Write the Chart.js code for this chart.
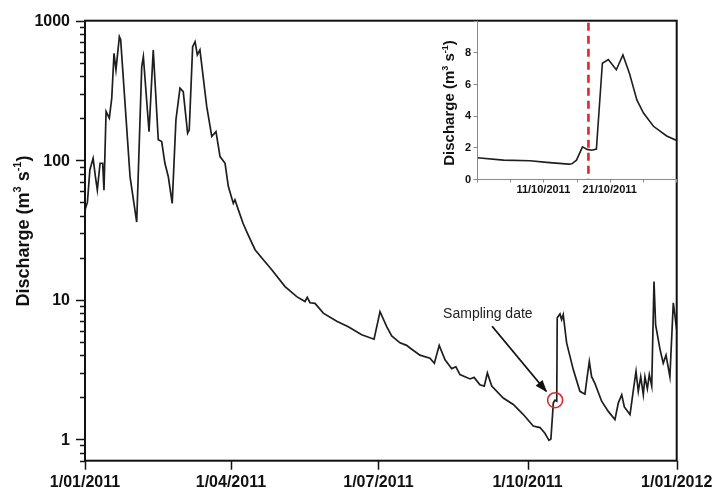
<!DOCTYPE html>
<html>
<head>
<meta charset="utf-8">
<script src="https://cdn.jsdelivr.net/npm/chart.js@4.4.1/dist/chart.umd.min.js"></script>
<style>
  html, body { margin: 0; padding: 0; background: #ffffff; }
  #wrap { position: relative; width: 712px; height: 489px; }
  #main { position: absolute; left: 0; top: 0; }
  #inset { position: absolute; left: 400px; top: 0; }
</style>
</head>
<body>
<div id="wrap">
  <canvas id="main" width="712" height="489"></canvas>
  <canvas id="inset" width="290" height="200"></canvas>
</div>
<script>
// ---------------- DATA ----------------
// Main series: day of year 2011 (0 = 1 Jan 2011) and daily discharge (m3/s)
const days = [0, 1.5, 3, 5, 6.5, 7.6, 9.3, 10.9, 11.7, 13, 15, 16.5, 17.9, 19.1, 21.2, 22, 27.8, 31.9, 35, 36,
  39.5, 42.1, 45.2, 47.3, 49.3, 51.4, 53.8, 56.1, 58.6, 60.6, 63.3, 64.3, 66.4, 67.9, 69.3, 70.9, 75.1, 78.2,
  80.8, 83.3, 86.4, 88.4, 90, 91.5, 92.5, 94.6, 97.6, 100.7, 104.9, 110, 115.2, 123.4, 130.6, 135.7, 137.1,
  138.8, 141.9, 147, 155.3, 162.4, 170.7, 178.3, 182, 186.1, 189.2, 194.3, 198.4, 200.5, 206.6, 212.8, 215.5,
  218.5, 222.1, 226.2, 228.8, 231.3, 237.5, 240, 243.6, 246.3, 248.2, 250.9, 258, 264.2, 270.4, 276.5, 280.7,
  283.7, 286.2, 287.4, 288.9, 289.9, 291, 291.3, 293, 294, 295, 297.1, 301.2, 305.3, 308.4, 309.8, 311.1,
  312.5, 314.6, 318.7, 322.8, 326.9, 329, 331.1, 332.7, 336.2, 338.6, 339.9, 341.3, 342.8, 344.4, 345.4,
  346.9, 348.1, 349.6, 351, 352, 354.7, 356.7, 358.4, 360.8, 362.9, 365];
const discharge = [44, 50, 85, 103, 75, 61, 95, 95, 61, 223, 200, 278, 583, 444, 768, 730, 76, 36, 468, 552,
  160, 617, 140, 136, 95, 76, 49, 195, 328, 310, 156, 165, 652, 707, 568, 617, 242, 148,
  160, 106, 95, 65, 56, 49, 52, 44, 35, 29, 22.8, 19.3, 16.4, 12.4, 10.5, 9.7, 10.4,
  9.5, 9.4, 8.0, 7.0, 6.4, 5.6, 5.2, 8.2, 6.4, 5.5, 4.9, 4.7, 4.5, 4.0, 3.8, 3.5,
  4.7, 3.7, 3.2, 3.3, 2.9, 2.7, 2.77, 2.45, 2.4, 2.98, 2.4, 1.97, 1.77, 1.5, 1.24, 1.21,
  1.1, 0.98, 1.0, 1.82, 1.9, 1.87, 7.4, 7.9, 7.2, 7.8, 4.9, 3.15, 2.2, 2.1, 2.8, 3.6,
  2.8, 2.5, 1.87, 1.58, 1.38, 1.82, 2.08, 1.7, 1.5, 2.4, 3.06, 2.2, 2.8, 2.08, 2.8,
  2.3, 2.9, 2.4, 13.5, 6.6, 4.4, 3.5, 4.0, 2.8, 9.5, 6.1];

// Main x tick positions (day of year) and labels
const xTickDays = [0, 90, 181, 273, 365];
const xTickLabels = ['1/01/2011', '1/04/2011', '1/07/2011', '1/10/2011', '1/01/2012'];
const yTickValues = [1, 10, 100, 1000];
const yTickLabels = ['1', '10', '100', '1000'];

// Sampling point
const samplingDay = 290;
const samplingValue = 1.9;
const samplingText = 'Sampling date';

// Inset series: day of October 2011 and discharge
const octDays = [1, 5, 9, 11.5, 14.8, 15.3, 16, 16.9, 17.6, 18.3, 19, 19.9, 20.8, 22, 23, 24, 25.1, 26.1, 27.6, 29.6, 31];
const octDischarge = [1.34, 1.19, 1.15, 1.05, 0.94, 0.96, 1.19, 2.03, 1.87, 1.82, 1.89, 7.31, 7.55, 6.9, 7.84, 6.65, 5.0, 4.17, 3.33, 2.72, 2.45];
const insetXTicks = [1, 6, 11, 16, 21, 26, 31];
const insetXLabels = { 11: '11/10/2011', 21: '21/10/2011' };
const insetYTicks = [0, 2, 4, 6, 8, 10];
const insetYLabels = { 0: '0', 2: '2', 4: '4', 6: '6', 8: '8' };
const samplingOctDay = 17.8;

// ---------------- HELPERS ----------------
const FONT = "'Liberation Sans', Arial, sans-serif";

function drawRotatedTitle(ctx, baseX, centerY, size, color) {
  const parts = [
    { t: 'Discharge (m', sup: false },
    { t: '3', sup: true },
    { t: ' s', sup: false },
    { t: '-1', sup: true },
    { t: ')', sup: false }
  ];
  const supSize = Math.round(size * 0.6);
  let total = 0;
  const widths = parts.map(p => {
    ctx.font = 'bold ' + (p.sup ? supSize : size) + 'px ' + FONT;
    const w = ctx.measureText(p.t).width;
    total += w;
    return w;
  });
  ctx.save();
  ctx.translate(baseX, centerY);
  ctx.rotate(-Math.PI / 2);
  ctx.fillStyle = color;
  ctx.textBaseline = 'alphabetic';
  ctx.textAlign = 'left';
  let x = -total / 2;
  parts.forEach((p, i) => {
    ctx.font = 'bold ' + (p.sup ? supSize : size) + 'px ' + FONT;
    ctx.fillText(p.t, x, p.sup ? -size * 0.42 : 0);
    x += widths[i];
  });
  ctx.restore();
}

// ---------------- MAIN CHART ----------------
const mainDecor = {
  id: 'mainDecor',
  afterDraw(chart) {
    const ctx = chart.ctx;
    const a = chart.chartArea;
    const xs = chart.scales.x, ys = chart.scales.y;
    ctx.save();
    ctx.strokeStyle = '#111';
    // y ticks (major + minor)
    ctx.lineWidth = 1.5;
    for (let e = -1; e <= 3; e++) {
      for (let m = 1; m <= 9; m++) {
        const v = m * Math.pow(10, e);
        if (v < ys.min - 1e-9 || v > ys.max + 1e-9) continue;
        const py = Math.round(ys.getPixelForValue(v)) + 0.5;
        const len = (m === 1) ? 9 : 5;
        ctx.beginPath();
        ctx.moveTo(a.left - len, py);
        ctx.lineTo(a.left, py);
        ctx.stroke();
      }
    }
    // x ticks
    xTickDays.forEach(d => {
      const px = Math.round(xs.getPixelForValue(d)) + 0.5;
      ctx.beginPath();
      ctx.moveTo(px, a.bottom);
      ctx.lineTo(px, a.bottom + 9);
      ctx.stroke();
    });
    // tick labels
    ctx.fillStyle = '#111';
    ctx.font = 'bold 16px ' + FONT;
    ctx.textAlign = 'center';
    ctx.textBaseline = 'alphabetic';
    xTickDays.forEach((d, i) => {
      ctx.fillText(xTickLabels[i], xs.getPixelForValue(d), a.bottom + 26);
    });
    ctx.textAlign = 'right';
    ctx.textBaseline = 'middle';
    yTickValues.forEach((v, i) => {
      ctx.fillText(yTickLabels[i], a.left - 15, ys.getPixelForValue(v) + 1);
    });
    // frame
    ctx.lineWidth = 2;
    ctx.strokeRect(a.left, a.top, a.right - a.left, a.bottom - a.top);
    // title
    drawRotatedTitle(ctx, 29, 231, 18, '#111');

    // sampling annotation
    const cx = xs.getPixelForValue(samplingDay);
    const cy = ys.getPixelForValue(samplingValue);
    ctx.strokeStyle = '#e0262b';
    ctx.lineWidth = 1.6;
    ctx.beginPath();
    ctx.arc(cx, cy, 7.5, 0, Math.PI * 2);
    ctx.stroke();
    // arrow
    const sx = cx - 63, sy = cy - 74;
    const ex = cx - 9, ey = cy - 9;
    ctx.strokeStyle = '#111';
    ctx.fillStyle = '#111';
    ctx.lineWidth = 1.8;
    ctx.beginPath();
    ctx.moveTo(sx, sy);
    ctx.lineTo(ex, ey);
    ctx.stroke();
    const ang = Math.atan2(ey - sy, ex - sx);
    const hl = 11, hw = 4.5;
    ctx.beginPath();
    ctx.moveTo(ex + 1.5 * Math.cos(ang), ey + 1.5 * Math.sin(ang));
    ctx.lineTo(ex - hl * Math.cos(ang) + hw * Math.sin(ang), ey - hl * Math.sin(ang) - hw * Math.cos(ang));
    ctx.lineTo(ex - hl * Math.cos(ang) - hw * Math.sin(ang), ey - hl * Math.sin(ang) + hw * Math.cos(ang));
    ctx.closePath();
    ctx.fill();
    ctx.font = '14px ' + FONT;
    ctx.fillStyle = '#222';
    ctx.textAlign = 'left';
    ctx.textBaseline = 'middle';
    ctx.fillText(samplingText, cx - 112, cy - 86);
    ctx.restore();
  }
};

new Chart(document.getElementById('main'), {
  type: 'line',
  data: {
    datasets: [{
      data: days.map((d, i) => ({ x: d, y: discharge[i] })),
      borderColor: '#1e1e1e',
      borderWidth: 1.7,
      pointRadius: 0,
      tension: 0,
      fill: false
    }]
  },
  options: {
    responsive: false,
    animation: false,
    devicePixelRatio: 1,
    layout: { padding: { top: 20.7, right: 35.3, left: 0, bottom: 0 } },
    plugins: { legend: { display: false }, tooltip: { enabled: false } },
    scales: {
      x: {
        type: 'linear',
        min: 0, max: 365,
        afterFit: s => { s.height = 28.3; },
        afterBuildTicks: s => { s.ticks = xTickDays.map(v => ({ value: v })); },
        grid: { display: false, drawTicks: false },
        border: { display: false },
        ticks: { display: false }
      },
      y: {
        type: 'logarithmic',
        min: 0.7, max: 1000,
        afterFit: s => { s.width = 85; },
        afterBuildTicks: s => { s.ticks = yTickValues.map(v => ({ value: v, major: true })); },
        grid: { display: false, drawTicks: false },
        border: { display: false },
        ticks: { display: false }
      }
    }
  },
  plugins: [mainDecor]
});

// ---------------- INSET CHART ----------------
const insetDecor = {
  id: 'insetDecor',
  afterDraw(chart) {
    const ctx = chart.ctx;
    const a = chart.chartArea;
    const xs = chart.scales.x, ys = chart.scales.y;
    ctx.save();
    ctx.strokeStyle = '#8a8a8a';
    ctx.lineWidth = 1;
    ctx.beginPath();
    ctx.moveTo(Math.round(a.left) + 0.5, a.top);
    ctx.lineTo(Math.round(a.left) + 0.5, Math.round(a.bottom) + 0.5);
    ctx.lineTo(a.right, Math.round(a.bottom) + 0.5);
    ctx.stroke();
    insetYTicks.forEach(v => {
      const py = Math.round(ys.getPixelForValue(v)) + 0.5;
      ctx.beginPath();
      ctx.moveTo(a.left - 3.5, py);
      ctx.lineTo(a.left, py);
      ctx.stroke();
    });
    insetXTicks.forEach(v => {
      const px = Math.round(xs.getPixelForValue(v)) + 0.5;
      ctx.beginPath();
      ctx.moveTo(px, a.bottom);
      ctx.lineTo(px, a.bottom + 3.5);
      ctx.stroke();
    });
    // tick labels
    ctx.fillStyle = '#111';
    ctx.font = 'bold 11px ' + FONT;
    ctx.textAlign = 'center';
    ctx.textBaseline = 'middle';
    insetXTicks.forEach(v => {
      if (insetXLabels[v]) ctx.fillText(insetXLabels[v], xs.getPixelForValue(v), a.bottom + 11);
    });
    ctx.textAlign = 'right';
    insetYTicks.forEach(v => {
      if (insetYLabels[v] !== undefined) ctx.fillText(insetYLabels[v], a.left - 6, ys.getPixelForValue(v) + 0.5);
    });
    // red dashed sampling line
    const rx = xs.getPixelForValue(samplingOctDay);
    ctx.strokeStyle = '#e0262b';
    ctx.lineWidth = 2.6;
    ctx.setLineDash([8, 5]);
    ctx.beginPath();
    ctx.moveTo(rx, a.top + 2);
    ctx.lineTo(rx, a.bottom);
    ctx.stroke();
    ctx.setLineDash([]);
    drawRotatedTitle(ctx, 54, 103, 15, '#111');
    ctx.restore();
  }
};

new Chart(document.getElementById('inset'), {
  type: 'line',
  data: {
    datasets: [{
      data: octDays.map((d, i) => ({ x: d, y: octDischarge[i] })),
      borderColor: '#1e1e1e',
      borderWidth: 1.6,
      pointRadius: 0,
      tension: 0,
      fill: false
    }]
  },
  options: {
    responsive: false,
    animation: false,
    devicePixelRatio: 1,
    layout: { padding: { top: 20.7, right: 14, left: 0, bottom: 0 } },
    plugins: { legend: { display: false }, tooltip: { enabled: false } },
    scales: {
      x: {
        type: 'linear',
        min: 1, max: 31,
        afterFit: s => { s.height = 21; },
        afterBuildTicks: s => { s.ticks = insetXTicks.map(v => ({ value: v })); },
        grid: { display: false, drawTicks: false },
        border: { display: false },
        ticks: { display: false }
      },
      y: {
        type: 'linear',
        min: 0, max: 10,
        afterFit: s => { s.width = 77; },
        afterBuildTicks: s => { s.ticks = insetYTicks.map(v => ({ value: v })); },
        grid: { display: false, drawTicks: false },
        border: { display: false },
        ticks: { display: false }
      }
    }
  },
  plugins: [insetDecor]
});
</script>
</body>
</html>
